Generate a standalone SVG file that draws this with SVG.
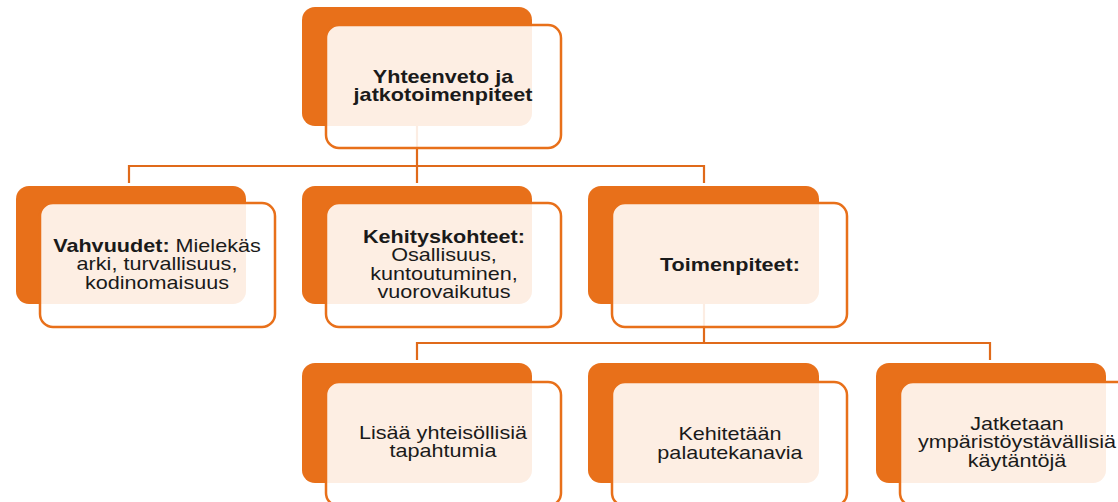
<svg xmlns="http://www.w3.org/2000/svg" width="1118" height="502" viewBox="0 0 1118 502">
<style>
.bg{fill:#fff}
.back{fill:#E8701A}
.front{fill:#fff;fill-opacity:0.88;stroke:#E8701A;stroke-width:2.5}
.conn{fill:none;stroke:#E06A1A;stroke-width:2.2}
text{font-family:"Liberation Sans",Arial,sans-serif;font-size:18px;fill:#1a1a1a;text-anchor:middle}
.b{font-weight:bold}
</style>
<rect class="bg" x="0" y="0" width="1118" height="502"/>
<g id="connectors">
<path class="conn" d="M417,126 V166 M129,183 V166 H704 V183 M417,166 V183"/>
<path class="conn" d="M704,304 V343 M417,360 V343 H990 V360"/>
</g>
<g id="node-yhteenveto">
<rect class="back" x="302" y="7" width="230" height="119" rx="13"/>
<rect class="front" x="326" y="25" width="235" height="123" rx="13"/>
<g transform="translate(443,0) scale(1.2,1)">
<text class="b" x="0" y="83">Yhteenveto ja</text>
<text class="b" x="0" y="101">jatkotoimenpiteet</text>
</g>
</g>
<g id="node-vahvuudet">
<rect class="back" x="16" y="186" width="230" height="118" rx="13"/>
<rect class="front" x="40" y="203" width="235" height="124" rx="13"/>
<g transform="translate(157,0) scale(1.2,1)">
<text x="0" y="252"><tspan class="b">Vahvuudet:</tspan> Mielekäs</text>
<text x="0" y="270.5">arki, turvallisuus,</text>
<text x="0" y="289">kodinomaisuus</text>
</g>
</g>
<g id="node-kehityskohteet">
<rect class="back" x="302" y="186" width="230" height="118" rx="13"/>
<rect class="front" x="326" y="203" width="235" height="124" rx="13"/>
<g transform="translate(444,0) scale(1.2,1)">
<text class="b" x="0" y="243">Kehityskohteet:</text>
<text x="0" y="261.5">Osallisuus,</text>
<text x="0" y="280">kuntoutuminen,</text>
<text x="0" y="298.5">vuorovaikutus</text>
</g>
</g>
<g id="node-toimenpiteet">
<rect class="back" x="588" y="186" width="231" height="118" rx="13"/>
<rect class="front" x="612" y="203" width="235" height="124" rx="13"/>
<g transform="translate(730,0) scale(1.2,1)">
<text class="b" x="0" y="271">Toimenpiteet:</text>
</g>
</g>
<g id="node-lisaa">
<rect class="back" x="302" y="363" width="230" height="120" rx="13"/>
<rect class="front" x="326" y="382" width="235" height="124" rx="13"/>
<g transform="translate(443,0) scale(1.2,1)">
<text x="0" y="439">Lisää yhteisöllisiä</text>
<text x="0" y="457.5">tapahtumia</text>
</g>
</g>
<g id="node-kehitetaan">
<rect class="back" x="588" y="363" width="231" height="120" rx="13"/>
<rect class="front" x="612" y="382" width="235" height="124" rx="13"/>
<g transform="translate(730,0) scale(1.2,1)">
<text x="0" y="440">Kehitetään</text>
<text x="0" y="459">palautekanavia</text>
</g>
</g>
<g id="node-jatketaan">
<rect class="back" x="876" y="363" width="230" height="120" rx="13"/>
<rect class="front" x="900" y="382" width="235" height="124" rx="13"/>
<g transform="translate(1017,0) scale(1.2,1)">
<text x="0" y="430">Jatketaan</text>
<text x="0" y="448.5">ympäristöystävällisiä</text>
<text x="0" y="467">käytäntöjä</text>
</g>
</g>
</svg>
